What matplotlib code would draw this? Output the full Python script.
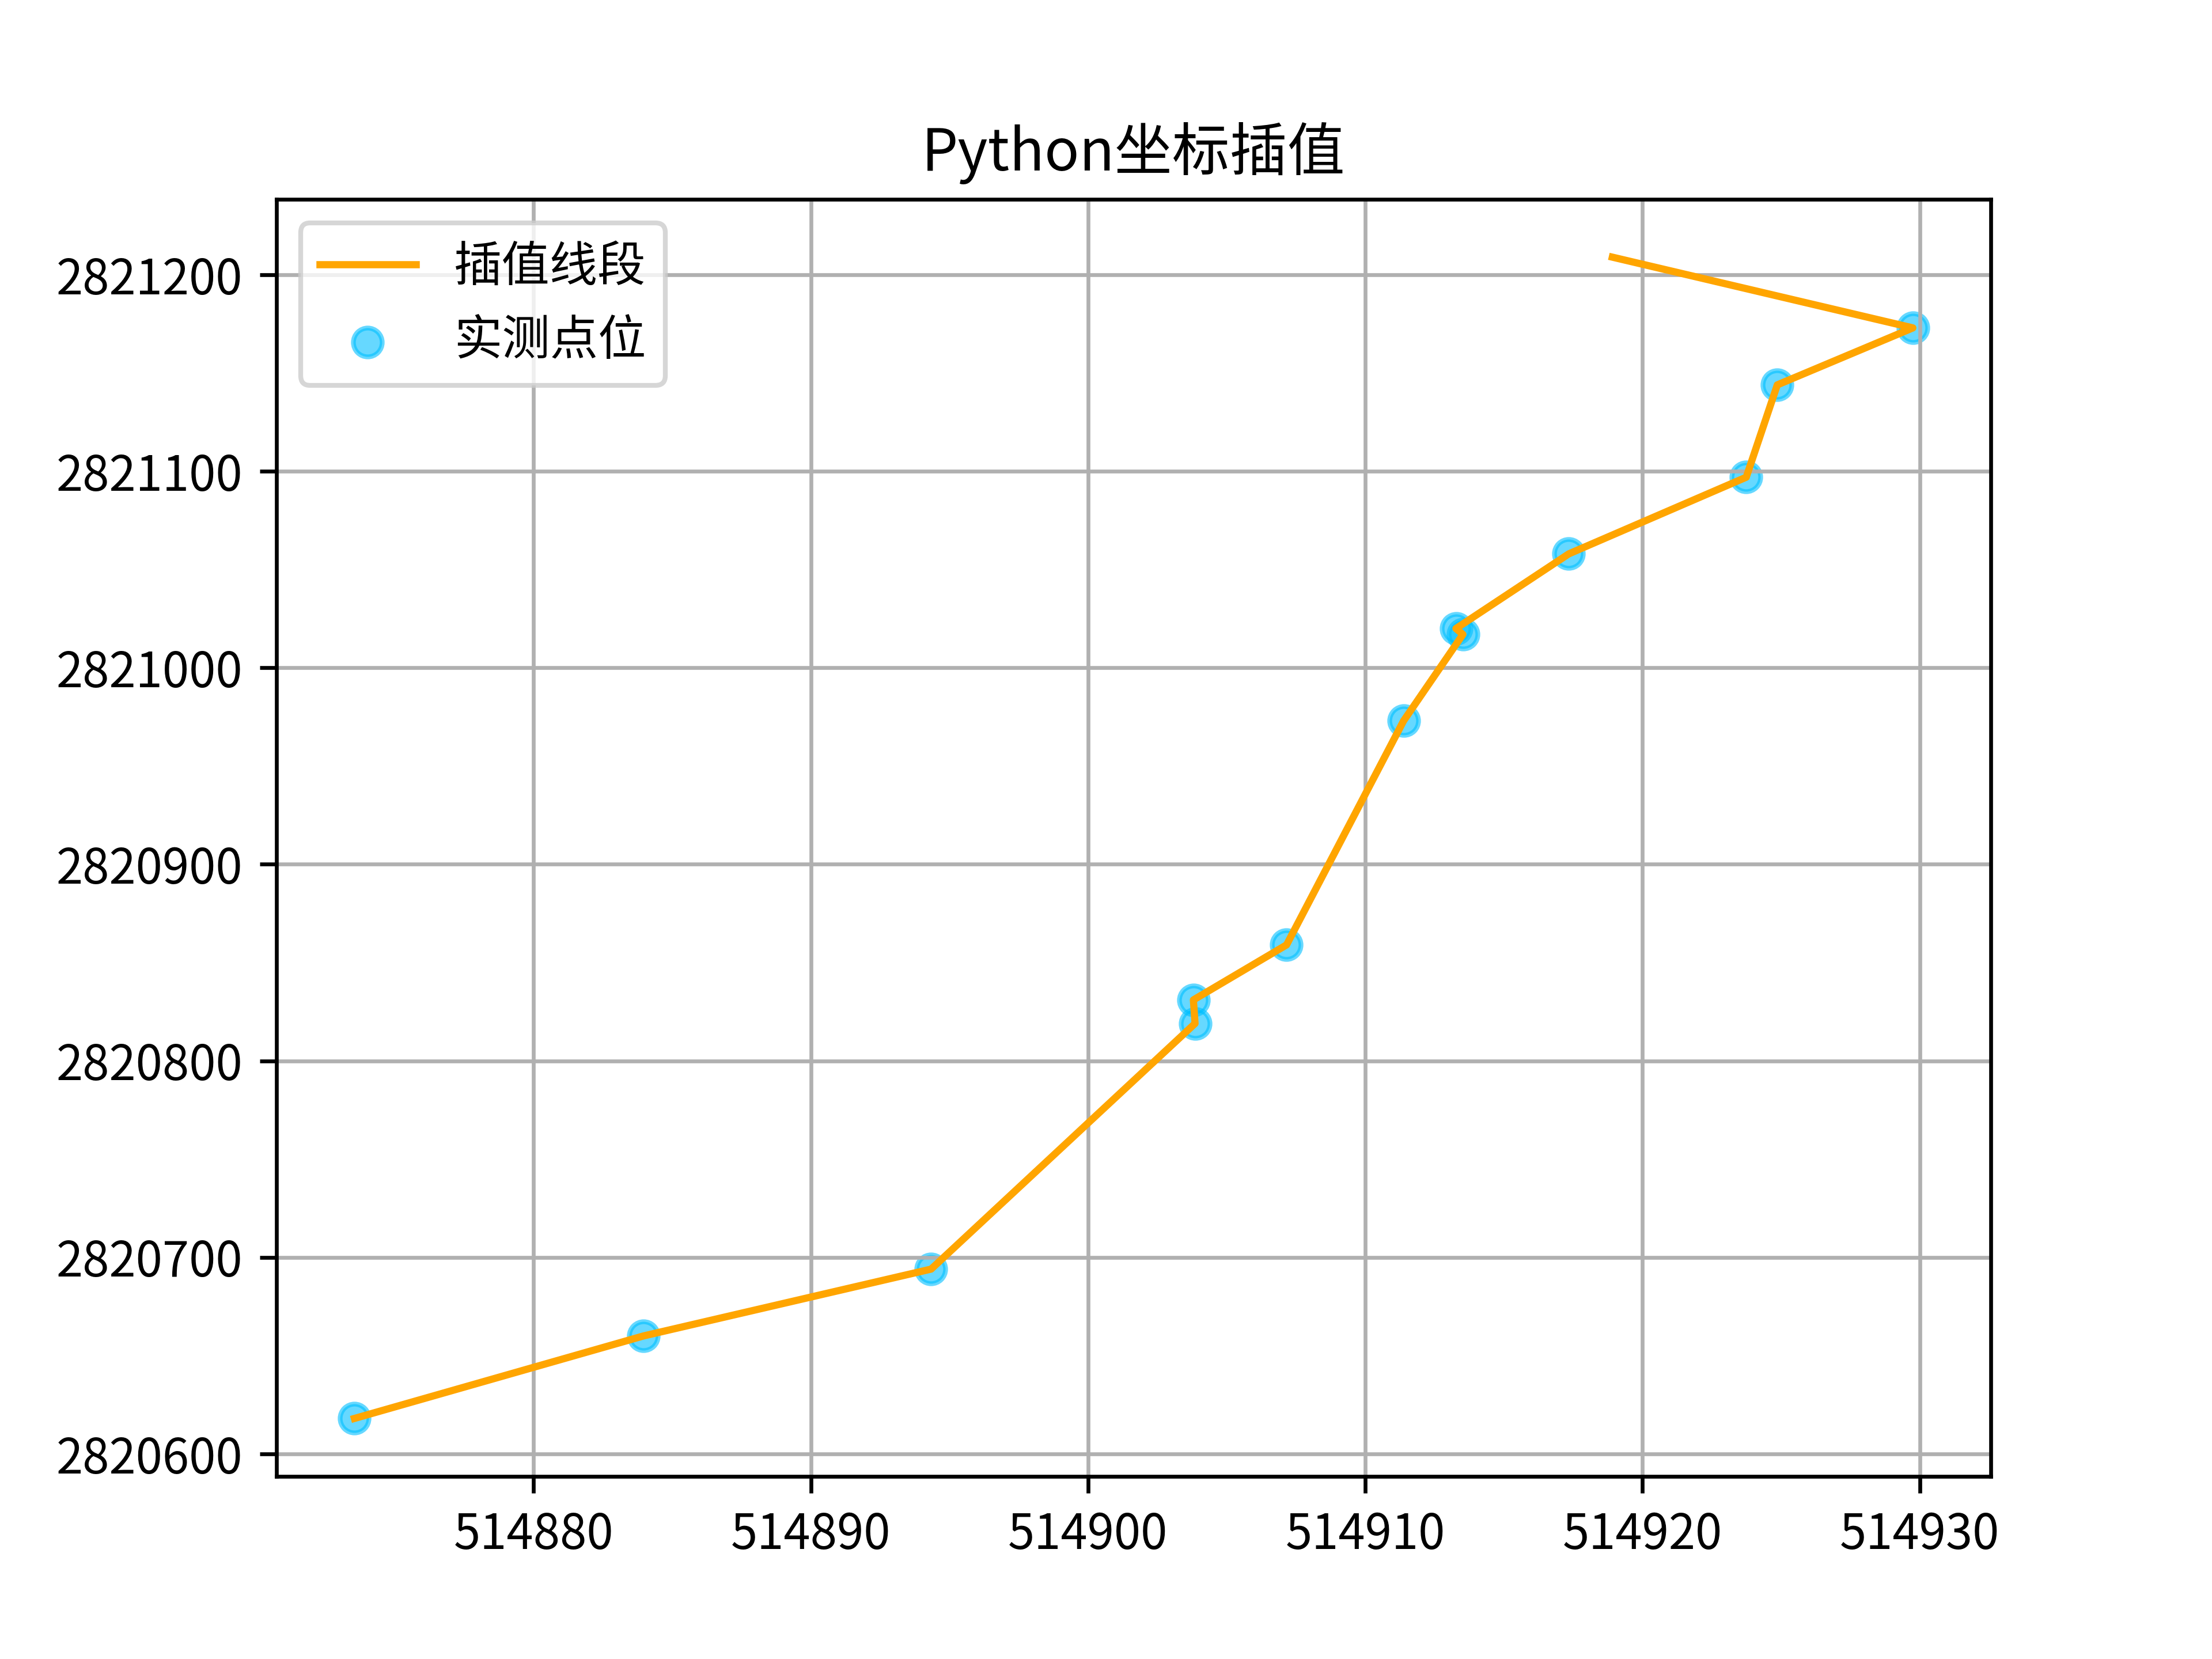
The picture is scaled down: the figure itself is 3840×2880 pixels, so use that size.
import matplotlib
matplotlib.use("Agg")
import matplotlib.pyplot as plt

plt.rcParams['font.family'] = ['Noto Sans CJK SC', 'DejaVu Sans']
plt.rcParams['axes.unicode_minus'] = False

# measured points (east, north)
pt_x = [514873.54, 514883.97, 514894.34, 514903.86, 514903.80, 514907.16,
        514911.38, 514913.27, 514913.52, 514917.34, 514923.74, 514924.86,
        514929.75]
pt_y = [2820618, 2820660, 2820694, 2820819, 2820831, 2820859,
        2820973, 2821020, 2821017, 2821058, 2821097, 2821144,
        2821173]

# interpolated path, in drawing order
line_x = [514873.54, 514883.97, 514894.34, 514903.86, 514903.80, 514907.16,
          514911.38, 514913.52, 514913.27, 514917.34, 514923.74, 514924.86,
          514929.75, 514918.91]
line_y = [2820618, 2820660, 2820694, 2820819, 2820831, 2820859,
          2820973, 2821017, 2821020, 2821058, 2821097, 2821144,
          2821173, 2821209]

fig = plt.figure(figsize=(6.4, 4.8))
plt.plot(line_x, line_y, color="orange", label="插值线段")
plt.scatter(pt_x, pt_y, color="deepskyblue", alpha=0.6, label="实测点位")
plt.title("Python坐标插值")
plt.ticklabel_format(useOffset=False, style="plain")
plt.grid(True)
plt.legend(loc="upper left")
plt.savefig("out.png", dpi=600)
